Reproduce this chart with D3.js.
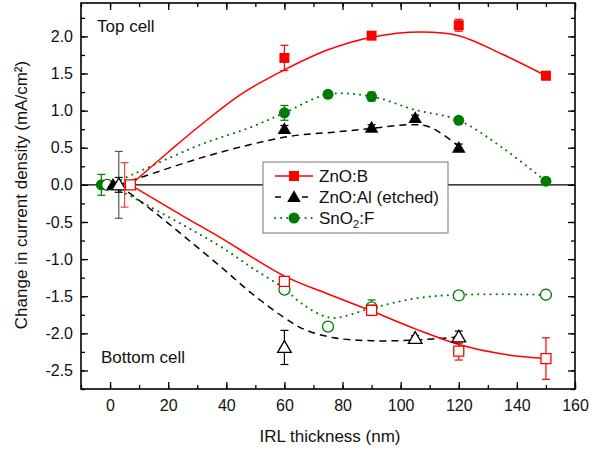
<!DOCTYPE html>
<html>
<head>
<meta charset="utf-8">
<script src="https://cdn.jsdelivr.net/npm/d3@7"></script>
<style>
  body { margin: 0; background: #fff; }
  text { font-family: Arial, "Liberation Sans", sans-serif; fill: #111; }
</style>
</head>
<body>
<div id="chart"></div>
<script>
// chart size
var svgWidth = 601;
var svgHeight = 450;
var margin = { top: 3, right: 26, bottom: 61, left: 81 };
var width = svgWidth - margin.left - margin.right;
var height = svgHeight - margin.top - margin.bottom;

// ---- data ----
// ZnO:B (red squares)
var znoBTopX = [60, 90, 120, 150];
var znoBTopY = [1.71, 2.01, 2.15, 1.47];
var znoBTopErr = [0.17, 0.03, 0.08, 0.02];
var znoBBotX = [7, 60, 90, 120, 150];
var znoBBotY = [0, -1.30, -1.69, -2.24, -2.34];
var znoBBotErr = [0, 0.03, 0.07, 0.12, 0.28];
var znoBTopFitX = [7, 20, 31, 45, 60, 75, 90, 107, 120, 135, 150];
var znoBTopFitY = [0, 0.44, 0.80, 1.22, 1.55, 1.82, 1.99, 2.06, 2.01, 1.76, 1.47];
var znoBBotFitX = [7, 26, 38, 60, 75, 90, 105, 120, 135, 150];
var znoBBotFitY = [0, -0.44, -0.71, -1.23, -1.47, -1.70, -1.94, -2.15, -2.28, -2.34];

// ZnO:Al etched (black triangles)
var znoAlTopX = [1, 60, 90, 105, 120];
var znoAlTopY = [0, 0.75, 0.77, 0.90, 0.50];
var znoAlTopErr = [0, 0.05, 0.04, 0.04, 0.05];
var znoAlBotX = [3, 60, 105, 120];
var znoAlBotY = [0, -2.19, -2.07, -2.05];
var znoAlBotErr = [0.10, 0.23, 0.04, 0.08];
var znoAlTopFitX = [3, 31, 48, 63, 77, 90, 103, 110, 120];
var znoAlTopFitY = [0, 0.36, 0.54, 0.66, 0.71, 0.76, 0.81, 0.78, 0.52];
var znoAlBotFitX = [3, 15, 26, 38, 49, 60, 67, 77, 90, 105, 120];
var znoAlBotFitY = [0, -0.36, -0.71, -1.10, -1.47, -1.79, -1.95, -2.06, -2.10, -2.09, -2.05];

// SnO2:F (green circles)
var snoTopX = [-3, 60, 75, 90, 120, 150];
var snoTopY = [0, 0.97, 1.22, 1.19, 0.87, 0.05];
var snoTopErr = [0.14, 0.10, 0, 0.06, 0, 0];
var snoBotX = [-1, 60, 75, 90, 120, 150];
var snoBotY = [0, -1.41, -1.91, -1.65, -1.49, -1.48];
var snoBotErr = [0.05, 0.05, 0, 0.10, 0, 0];
var snoTopFitX = [0, 31, 48, 60, 75, 90, 105, 120, 135, 150];
var snoTopFitY = [0, 0.54, 0.77, 0.97, 1.22, 1.19, 1.01, 0.87, 0.50, 0.05];
var snoBotFitX = [0, 26, 38, 49, 60, 66, 76, 90, 105, 120, 150];
var snoBotFitY = [0, -0.56, -0.83, -1.12, -1.40, -1.60, -1.79, -1.66, -1.53, -1.48, -1.48];

// extra error bars at the zero points
var zeroErrX = [3, 5];
var zeroErrE = [0.45, 0.30];

var xTicks = [0, 20, 40, 60, 80, 100, 120, 140, 160];
var yTicks = [-2.5, -2.0, -1.5, -1.0, -0.5, 0.0, 0.5, 1.0, 1.5, 2.0];
var legendNames = ["ZnO:B", "ZnO:Al (etched)", "SnO2:F"];

var red = "#ff0000", green = "#007a00", black = "#000";

function pts(xs, ys, es) {
  return xs.map(function(x, i) { return { x: x, y: ys[i], e: es ? es[i] : 0 }; });
}

var svg = d3.select("#chart").append("svg")
  .attr("width", svgWidth)
  .attr("height", svgHeight);

var chartGroup = svg.append("g")
  .attr("transform", `translate(${margin.left}, ${margin.top})`);

var x = d3.scaleLinear().domain([-10, 160]).range([0, width]);
var y = d3.scaleLinear().domain([-2.75, 2.45]).range([height, 0]);

// axes (ticks point inward)
function minor(lo, hi, step) {
  var out = [];
  for (var v = lo; v <= hi + 1e-9; v += step) out.push(+v.toFixed(3));
  return out;
}
var xMinor = minor(-10, 160, 10);
var yMinor = minor(-2.75, 2.25, 0.25);

chartGroup.append("g").attr("transform", `translate(0, ${height})`)
  .call(d3.axisBottom(x).tickValues(xMinor).tickSizeInner(-4).tickSizeOuter(0).tickFormat(""));
chartGroup.append("g").attr("transform", `translate(0, ${height})`)
  .call(d3.axisBottom(x).tickValues(xTicks).tickSizeInner(-7).tickSizeOuter(0).tickPadding(11)
    .tickFormat(d3.format("d")));
chartGroup.append("g")
  .call(d3.axisTop(x).tickValues(xMinor).tickSizeInner(-4).tickSizeOuter(0).tickFormat(""));
chartGroup.append("g")
  .call(d3.axisTop(x).tickValues(xTicks).tickSizeInner(-7).tickSizeOuter(0).tickFormat(""));

chartGroup.append("g")
  .call(d3.axisLeft(y).tickValues(yMinor).tickSizeInner(-4).tickSizeOuter(0).tickFormat(""));
chartGroup.append("g")
  .call(d3.axisLeft(y).tickValues(yTicks).tickSizeInner(-7).tickSizeOuter(0).tickPadding(8)
    .tickFormat(function(d) { return d.toFixed(1); }));
chartGroup.append("g").attr("transform", `translate(${width}, 0)`)
  .call(d3.axisRight(y).tickValues(yMinor).tickSizeInner(-4).tickSizeOuter(0).tickFormat(""));
chartGroup.append("g").attr("transform", `translate(${width}, 0)`)
  .call(d3.axisRight(y).tickValues(yTicks).tickSizeInner(-7).tickSizeOuter(0).tickFormat(""));

chartGroup.selectAll(".domain").remove();
chartGroup.selectAll(".tick line").attr("stroke", "#000").attr("stroke-width", 1.3);
chartGroup.selectAll(".tick text")
  .style("font-size", "16px")
  .style("font-family", "Arial, 'Liberation Sans', sans-serif")
  .attr("fill", "#111");

// zero line
chartGroup.append("line")
  .attr("x1", 0).attr("x2", width)
  .attr("y1", y(0)).attr("y2", y(0))
  .attr("stroke", "#000").attr("stroke-width", 1.2);

// fit curves
var line = d3.line().x(d => x(d.x)).y(d => y(d.y)).curve(d3.curveCatmullRom.alpha(0.5));

function drawFit(xs, ys, color, dash) {
  chartGroup.append("path")
    .datum(pts(xs, ys))
    .attr("d", line)
    .attr("fill", "none")
    .attr("stroke", color)
    .attr("stroke-width", dash === "dot" ? 2 : 1.5)
    .attr("stroke-linecap", dash === "dot" ? "round" : "butt")
    .attr("stroke-dasharray", dash === "dash" ? "7,5" : dash === "dot" ? "0.1,6" : null);
}
drawFit(snoTopFitX, snoTopFitY, green, "dot");
drawFit(snoBotFitX, snoBotFitY, green, "dot");
drawFit(znoAlTopFitX, znoAlTopFitY, black, "dash");
drawFit(znoAlBotFitX, znoAlBotFitY, black, "dash");
drawFit(znoBTopFitX, znoBTopFitY, red, null);
drawFit(znoBBotFitX, znoBBotFitY, red, null);

// error bars
function drawErr(data, color) {
  var g = chartGroup.append("g").attr("stroke", color).attr("stroke-width", 1.2);
  data.filter(d => d.e > 0).forEach(function(d) {
    var cx = x(d.x), y1 = y(d.y + d.e), y2 = y(d.y - d.e);
    g.append("line").attr("x1", cx).attr("x2", cx).attr("y1", y1).attr("y2", y2);
    g.append("line").attr("x1", cx - 4).attr("x2", cx + 4).attr("y1", y1).attr("y2", y1);
    g.append("line").attr("x1", cx - 4).attr("x2", cx + 4).attr("y1", y2).attr("y2", y2);
  });
}

var sym = {
  square: d3.symbol().type(d3.symbolSquare).size(100),
  circle: d3.symbol().type(d3.symbolCircle).size(95),
  triangle: d3.symbol().type(d3.symbolTriangle).size(80)
};

function drawMarks(data, shape, color, filled) {
  chartGroup.append("g").selectAll("path")
    .data(data)
    .enter()
    .append("path")
    .attr("d", sym[shape])
    .attr("transform", d => `translate(${x(d.x)}, ${y(d.y) + (shape === "triangle" ? 1 : 0)})`)
    .attr("fill", filled ? color : "#fff")
    .attr("stroke", color)
    .attr("stroke-width", filled ? 0 : 1.3);
}

var snoTop = pts(snoTopX, snoTopY, snoTopErr);
var snoBot = pts(snoBotX, snoBotY, snoBotErr);
var alTop = pts(znoAlTopX, znoAlTopY, znoAlTopErr);
var alBot = pts(znoAlBotX, znoAlBotY, znoAlBotErr);
var bTop = pts(znoBTopX, znoBTopY, znoBTopErr);
var bBot = pts(znoBBotX, znoBBotY, znoBBotErr);
var zeroErr = pts(zeroErrX, [0, 0], zeroErrE);

drawErr(snoTop, green); drawMarks(snoTop, "circle", green, true);
drawErr(snoBot, green); drawMarks(snoBot, "circle", green, false);
drawErr(alTop, black); drawMarks(alTop, "triangle", black, true);
drawErr([zeroErr[0]], "#555");
drawErr(alBot, black); drawMarks(alBot, "triangle", black, false);
drawErr([zeroErr[1]], "#ee4444");
drawErr(bTop, red); drawMarks(bTop, "square", red, true);
drawErr(bBot, red); drawMarks(bBot, "square", red, false);

// frame
chartGroup.append("rect")
  .attr("width", width).attr("height", height)
  .attr("fill", "none").attr("stroke", "#000").attr("stroke-width", 1.6);

// legend
var legend = svg.append("g").attr("transform", "translate(263, 162)");
legend.append("rect")
  .attr("width", 185).attr("height", 71)
  .attr("fill", "#fff").attr("stroke", "#777").attr("stroke-width", 1);

var legendStyles = [
  { color: red, dash: null, shape: "square", w: 1.5 },
  { color: black, dash: "6,21", shape: "triangle", w: 1.5 },
  { color: green, dash: "0.1,6", shape: "circle", w: 2 }
];
legendNames.forEach(function(name, i) {
  var st = legendStyles[i];
  var cy = 14 + i * 21;
  legend.append("line")
    .attr("x1", 12).attr("x2", 50).attr("y1", cy).attr("y2", cy)
    .attr("stroke", st.color).attr("stroke-width", st.w)
    .attr("stroke-linecap", st.shape === "circle" ? "round" : "butt")
    .attr("stroke-dasharray", st.dash);
  legend.append("path")
    .attr("d", sym[st.shape])
    .attr("transform", `translate(31, ${cy + (st.shape === "triangle" ? 1 : 0)})`)
    .attr("fill", st.color);
  var t = legend.append("text")
    .attr("x", 56).attr("y", cy + 5.5)
    .style("font-size", "17px");
  if (name === "SnO2:F") {
    t.append("tspan").text("SnO");
    t.append("tspan").attr("dy", 4).style("font-size", "11px").text("2");
    t.append("tspan").attr("dy", -4).text(":F");
  } else {
    t.text(name);
  }
});

// annotations
svg.append("text").attr("x", 97).attr("y", 31.5).style("font-size", "17px").text("Top cell");
svg.append("text").attr("x", 101).attr("y", 362.5).style("font-size", "17px").text("Bottom cell");

// axis titles
svg.append("text")
  .attr("transform", "rotate(-90)")
  .attr("x", -195).attr("y", 27)
  .style("text-anchor", "middle")
  .style("font-size", "17px")
  .text("Change in current density (mA/cm²)");

svg.append("text")
  .attr("x", 330).attr("y", 442)
  .style("text-anchor", "middle")
  .style("font-size", "17px")
  .text("IRL thickness (nm)");
</script>
</body>
</html>
